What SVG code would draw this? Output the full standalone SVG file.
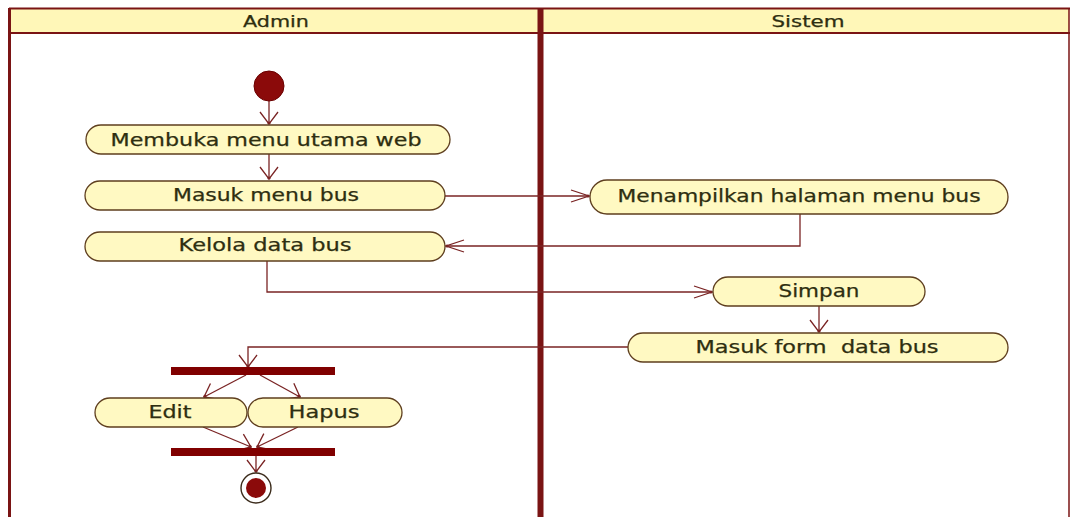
<svg xmlns="http://www.w3.org/2000/svg" width="1071" height="517" viewBox="0 0 1071 517">
  <style>
    .lane-head { fill: #FFF7B8; }
    .frame { fill: none; stroke: #7A1414; }
    .act rect { fill: #FFF9C2; stroke: #5E3E1E; stroke-width: 1.3; }
    .label { font-family: "DejaVu Sans", Verdana, sans-serif; font-size: 17px; fill: #2E2E10; stroke: #2E2E10; stroke-width: 0.25; }
    .head { font-family: "DejaVu Sans", Verdana, sans-serif; font-size: 15px; fill: #2E2E10; stroke: #2E2E10; stroke-width: 0.25; }
    .flow { fill: none; stroke: #7A2424; stroke-width: 1.3; }
    .bar { fill: #800000; }
  </style>
  <defs>
    <marker id="arrH" markerUnits="userSpaceOnUse" markerWidth="24" markerHeight="16" refX="0" refY="0" viewBox="-20 -8 24 16" orient="auto" overflow="visible">
      <path d="M-18,-6 L0,0 L-18,6" fill="none" stroke="#7A2424" stroke-width="1.3"/>
      <circle cx="-1" cy="0" r="1.6" fill="#7A2424"/>
    </marker>
    <marker id="arrV" markerUnits="userSpaceOnUse" markerWidth="24" markerHeight="24" refX="0" refY="0" viewBox="-14 -12 16 24" orient="auto" overflow="visible">
      <path d="M-12,-9 L0,0 L-12,9" fill="none" stroke="#7A2424" stroke-width="1.3"/>
      <circle cx="-1" cy="0" r="1.6" fill="#7A2424"/>
    </marker>
  </defs>

  <rect width="1071" height="517" fill="#FFFFFF"/>

  <!-- swimlane frame -->
  <g id="lanes">
    <rect class="lane-head" x="10" y="8" width="1059" height="25"/>
    <line class="frame" x1="9" y1="8.5" x2="1070" y2="8.5" stroke-width="2"/>
    <line class="frame" x1="9" y1="33" x2="1070" y2="33" stroke-width="2"/>
    <line class="frame" x1="9.5" y1="8" x2="9.5" y2="517" stroke-width="3"/>
    <line class="frame" x1="1069" y1="8" x2="1069" y2="517" stroke-width="1.5"/>
    <line class="frame" x1="540.5" y1="8" x2="540.5" y2="517" stroke-width="6" stroke="#760A0A"/>
    <text class="head" x="276" y="27" text-anchor="middle" textLength="66" lengthAdjust="spacingAndGlyphs">Admin</text>
    <text class="head" x="808" y="27" text-anchor="middle" textLength="73" lengthAdjust="spacingAndGlyphs">Sistem</text>
  </g>

  <!-- connectors -->
  <g id="connectors">
    <path class="flow" d="M269,100 L269,124" marker-end="url(#arrV)"/>
    <path class="flow" d="M269,154 L269,179" marker-end="url(#arrV)"/>
    <path class="flow" d="M445,196 L589,196" marker-end="url(#arrH)"/>
    <path class="flow" d="M800,214 L800,246 L446,246" marker-end="url(#arrH)"/>
    <path class="flow" d="M267,261 L267,292 L712,292" marker-end="url(#arrH)"/>
    <path class="flow" d="M819,306 L819,332" marker-end="url(#arrV)"/>
    <path class="flow" d="M628,347 L248,347 L248,367" marker-end="url(#arrV)"/>
    <path class="flow" d="M246,375 L204,397" marker-end="url(#arrV)"/>
    <path class="flow" d="M260,375 L300,397" marker-end="url(#arrV)"/>
    <path class="flow" d="M203,427 L251,447" marker-end="url(#arrV)"/>
    <path class="flow" d="M298,427 L257,447" marker-end="url(#arrV)"/>
    <path class="flow" d="M256,455 L256,472" marker-end="url(#arrV)"/>
  </g>

  <!-- initial node -->
  <g id="start">
    <circle cx="269" cy="86" r="15" fill="#8B0A0A" stroke="#6A0000" stroke-width="1"/>
  </g>

  <g id="membuka" class="act">
    <rect x="86" y="125" width="364" height="29" rx="15" ry="14.5"/>
    <text class="label" x="266" y="146" text-anchor="middle" textLength="311" lengthAdjust="spacingAndGlyphs">Membuka menu utama web</text>
  </g>

  <g id="masuk-menu" class="act">
    <rect x="85" y="181" width="360" height="29" rx="15" ry="14.5"/>
    <text class="label" x="266" y="201" text-anchor="middle" textLength="186" lengthAdjust="spacingAndGlyphs">Masuk menu bus</text>
  </g>

  <g id="kelola" class="act">
    <rect x="85" y="232" width="360" height="29" rx="15" ry="14.5"/>
    <text class="label" x="265" y="251" text-anchor="middle" textLength="173" lengthAdjust="spacingAndGlyphs">Kelola data bus</text>
  </g>

  <g id="menampilkan" class="act">
    <rect x="590" y="180" width="418" height="34" rx="17" ry="17"/>
    <text class="label" x="799" y="202" text-anchor="middle" textLength="363" lengthAdjust="spacingAndGlyphs">Menampilkan halaman menu bus</text>
  </g>

  <g id="simpan" class="act">
    <rect x="713" y="277" width="212" height="29" rx="15" ry="14.5"/>
    <text class="label" x="819" y="297" text-anchor="middle" textLength="81" lengthAdjust="spacingAndGlyphs">Simpan</text>
  </g>

  <g id="masuk-form" class="act">
    <rect x="628" y="333" width="380" height="29" rx="15" ry="14.5"/>
    <text class="label" x="817" y="353" text-anchor="middle" textLength="243" lengthAdjust="spacingAndGlyphs" xml:space="preserve">Masuk form  data bus</text>
  </g>

  <!-- fork and join bars -->
  <g id="fork">
    <rect class="bar" x="171" y="367" width="164" height="8"/>
  </g>

  <g id="edit" class="act">
    <rect x="95" y="398" width="152" height="29" rx="15" ry="14.5"/>
    <text class="label" x="170" y="418" text-anchor="middle" textLength="43" lengthAdjust="spacingAndGlyphs">Edit</text>
  </g>

  <g id="hapus" class="act">
    <rect x="248" y="398" width="154" height="29" rx="15" ry="14.5"/>
    <text class="label" x="324" y="418" text-anchor="middle" textLength="71" lengthAdjust="spacingAndGlyphs">Hapus</text>
  </g>

  <g id="join">
    <rect class="bar" x="171" y="448" width="164" height="8"/>
  </g>

  <!-- final node -->
  <g id="end">
    <circle cx="256" cy="488" r="15" fill="#FFFFFF" stroke="#3A2A1A" stroke-width="1.4"/>
    <circle cx="256" cy="488" r="10" fill="#8B0A0A"/>
  </g>
</svg>
